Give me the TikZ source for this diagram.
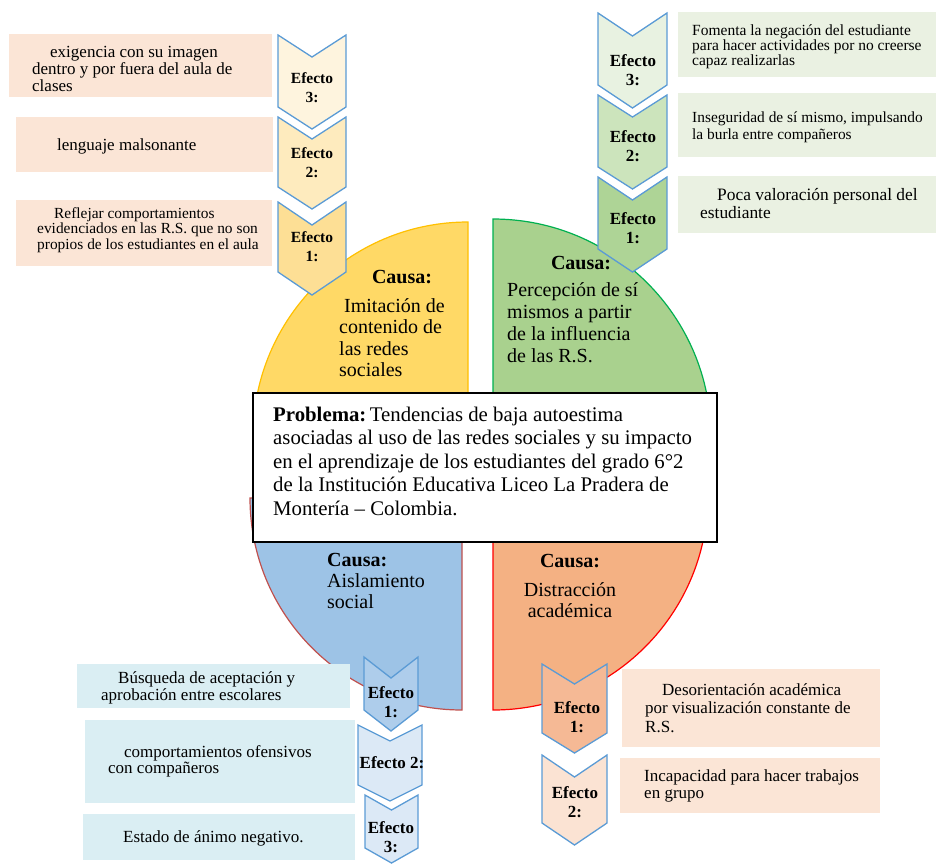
\documentclass[tikz,border=0pt]{standalone}
\usepackage{fontspec}
\setmainfont{Liberation Serif}
\definecolor{qyel}{HTML}{FFD966}
\definecolor{qyelb}{HTML}{FFC000}
\definecolor{qgrn}{HTML}{A9D18E}
\definecolor{qgrnb}{HTML}{00B050}
\definecolor{qblu}{HTML}{9DC3E6}
\definecolor{qblub}{HTML}{C0504D}
\definecolor{qorg}{HTML}{F4B183}
\definecolor{qorgb}{HTML}{FF0000}
\definecolor{chevb}{HTML}{5B9BD5}
\definecolor{bpeach}{HTML}{FBE5D6}
\definecolor{bgreen}{HTML}{EAF1E2}
\definecolor{bblue}{HTML}{DAEEF3}
\definecolor{tlA}{HTML}{FEF4DE}
\definecolor{tlB}{HTML}{FEEBBE}
\definecolor{tlC}{HTML}{FDDF95}
\definecolor{trA}{HTML}{E8F2E1}
\definecolor{trB}{HTML}{CCE4BC}
\definecolor{trC}{HTML}{AED496}
\definecolor{blA}{HTML}{AECDEB}
\definecolor{blB}{HTML}{DCE9F6}
\definecolor{brA}{HTML}{F5B995}
\definecolor{brB}{HTML}{FBE3D3}
\newcommand\chevshape[6]{%
  \filldraw[chevline, fill=#6] (#1,#2) -- ({#1+#3/2},{#2+#5}) -- ({#1+#3},#2) -- ({#1+#3},#4) -- ({#1+#3/2},{#4+#5}) -- (#1,#4) -- cycle;}
\tikzset{
  chevline/.style={draw=chevb, line width=1.3pt, line join=miter},
  txt/.style={anchor=base west, align=left, inner sep=0pt},
  ctxt/.style={anchor=base, align=center, inner sep=0pt},
  eff/.style={anchor=base, align=center, inner sep=0pt, font=\bfseries\fontsize{17}{18.5}\selectfont},
  effs/.style={anchor=base, align=center, inner sep=0pt, font=\bfseries\fontsize{15.5}{19}\selectfont},
}
\begin{document}
\begin{tikzpicture}[x=1pt, y=-1pt]
\useasboundingbox (0,0) rectangle (936,863);
% quadrants
\filldraw[fill=qyel, draw=qyelb, line width=1.2pt] (468,437) -- (253,437) arc[start angle=180, end angle=270, radius=215] -- cycle;
\filldraw[fill=qgrn, draw=qgrnb, line width=1.2pt] (493,437) -- (493,219) arc[start angle=270, end angle=360, radius=218] -- cycle;
\filldraw[fill=qblu, draw=qblub, line width=1.2pt] (462,495) -- (462,710) arc[start angle=90, end angle=180, radius=212] -- cycle;
\filldraw[fill=qorg, draw=qorgb, line width=1.2pt] (493,495) -- (708,495) arc[start angle=0, end angle=90, radius=215] -- cycle;
% text boxes
\fill[bpeach] (9,34) rectangle (272,97);
\fill[bpeach] (16,117) rectangle (273,172);
\fill[bpeach] (16,200) rectangle (272,266);
\fill[bgreen] (678,12) rectangle (936,77);
\fill[bgreen] (678,93) rectangle (936,157);
\fill[bgreen] (678,176) rectangle (936,233);
\fill[bblue] (77,664) rectangle (350,708);
\fill[bblue] (85,720) rectangle (355,803);
\fill[bblue] (83,814) rectangle (355,860);
\fill[bpeach] (622,669) rectangle (880,747);
\fill[bpeach] (620,758) rectangle (880,813);
% chevrons
\chevshape{278}{35}{68}{107}{22}{tlA}
\chevshape{278}{117}{68}{187}{22}{tlB}
\chevshape{278}{202}{68}{272}{23}{tlC}
\chevshape{598}{13}{69}{85}{23}{trA}
\chevshape{598}{95}{69}{167}{22}{trB}
\chevshape{598}{177}{69}{249}{23}{trC}
\chevshape{364}{657}{54}{710}{21}{blA}
\chevshape{358}{725}{64}{785}{16}{blB}
\chevshape{365}{795}{53}{848}{15}{blB}
\chevshape{542}{664}{65}{733}{20}{brA}
\chevshape{542}{755}{65}{823}{22}{brB}
% problem box
\draw[black, line width=1.6pt, fill=white] (253,393) rectangle (717,542);
% chevron labels (base = last line)
\node[effs] (tl3) at (312,102) {Efecto\\3:};
\node[effs] (tl2) at (312,177) {Efecto\\2:};
\node[effs] (tl1) at (312,261) {Efecto\\1:};
\node[eff] (tr3) at (633,85) {Efecto\\3:};
\node[eff] (tr2) at (633,161) {Efecto\\2:};
\node[eff] (tr1) at (633,243) {Efecto\\1:};
\node[eff] (bl1) at (391,717) {Efecto\\1:};
\node[eff] (bl2) at (392,768) {Efecto 2:};
\node[eff] (bl3) at (391,852) {Efecto\\3:};
\node[eff] (br1) at (577,732) {Efecto\\1:};
\node[eff] (br2) at (575,817) {Efecto\\2:};
% box texts (base = last line)
\node[txt, font=\fontsize{17}{17}\selectfont] (t1) at (32,91) {\hspace*{18pt}exigencia con su imagen\\dentro y por fuera del aula de\\clases};
\node[txt, font=\fontsize{17}{17}\selectfont] (t2) at (57,150) {lenguaje malsonante};
\node[txt, font=\fontsize{15.4}{15.5}\selectfont] (t3) at (37,249) {\hspace*{17pt}Reflejar comportamientos\\evidenciados en las R.S. que no son\\propios de los estudiantes en el aula};
\node[txt, font=\fontsize{15.5}{15}\selectfont] (r1) at (692,65) {Fomenta la negación del estudiante\\para hacer actividades por no creerse\\capaz realizarlas};
\node[txt, font=\fontsize{15.4}{17}\selectfont] (r2) at (692,139) {Inseguridad de sí mismo, impulsando\\la burla entre compañeros};
\node[txt, font=\fontsize{17.4}{18}\selectfont] (r3) at (700,218) {\hspace*{17pt}Poca valoración personal del\\estudiante};
\node[txt, font=\fontsize{17}{17}\selectfont] (b1) at (101,700) {\hspace*{17pt}Búsqueda de aceptación y\\aprobación entre escolares};
\node[txt, font=\fontsize{17}{16}\selectfont] (b2) at (108,773) {\hspace*{16pt}comportamientos ofensivos\\con compañeros};
\node[txt, font=\fontsize{17}{17}\selectfont] (b3) at (123,842) {Estado de ánimo negativo.};
\node[txt, font=\fontsize{17}{18.5}\selectfont] (o1) at (645,732) {\hspace*{17pt}Desorientación académica\\por visualización constante de\\R.S.};
\node[txt, font=\fontsize{17}{17}\selectfont] (o2) at (644,798) {Incapacidad para hacer trabajos\\en grupo};
% causa texts
\node[ctxt, font=\bfseries\fontsize{20}{21.5}\selectfont] (cy) at (402,283) {Causa:};
\node[txt, font=\fontsize{20}{21.5}\selectfont] (cyt) at (339,376.5) {\hspace*{5pt}Imitación de\\contenido de\\las redes\\sociales};
\node[ctxt, font=\bfseries\fontsize{20}{21.5}\selectfont] (cg) at (581,269) {Causa:};
\node[txt, font=\fontsize{20}{22}\selectfont] (cgt) at (507,362) {Percepción de sí\\mismos a partir\\de la influencia\\de las R.S.};
\node[txt, font=\fontsize{20}{21}\selectfont] (cb) at (327,608) {\textbf{Causa:}\\Aislamiento\\social};
\node[ctxt, font=\bfseries\fontsize{20}{21.5}\selectfont] (co) at (570,567) {Causa:};
\node[ctxt, font=\fontsize{20}{21}\selectfont] (cot) at (570,617) {Distracción\\académica};
\node[txt, font=\fontsize{20.8}{23.5}\selectfont] (prob) at (273,515) {\textbf{Problema:}\,Tendencias de baja autoestima\\asociadas al uso de las redes sociales y su impacto\\en el aprendizaje de los estudiantes del grado 6°2\\de la Institución Educativa Liceo La Pradera de\\Montería – Colombia.};
\end{tikzpicture}
\end{document}
